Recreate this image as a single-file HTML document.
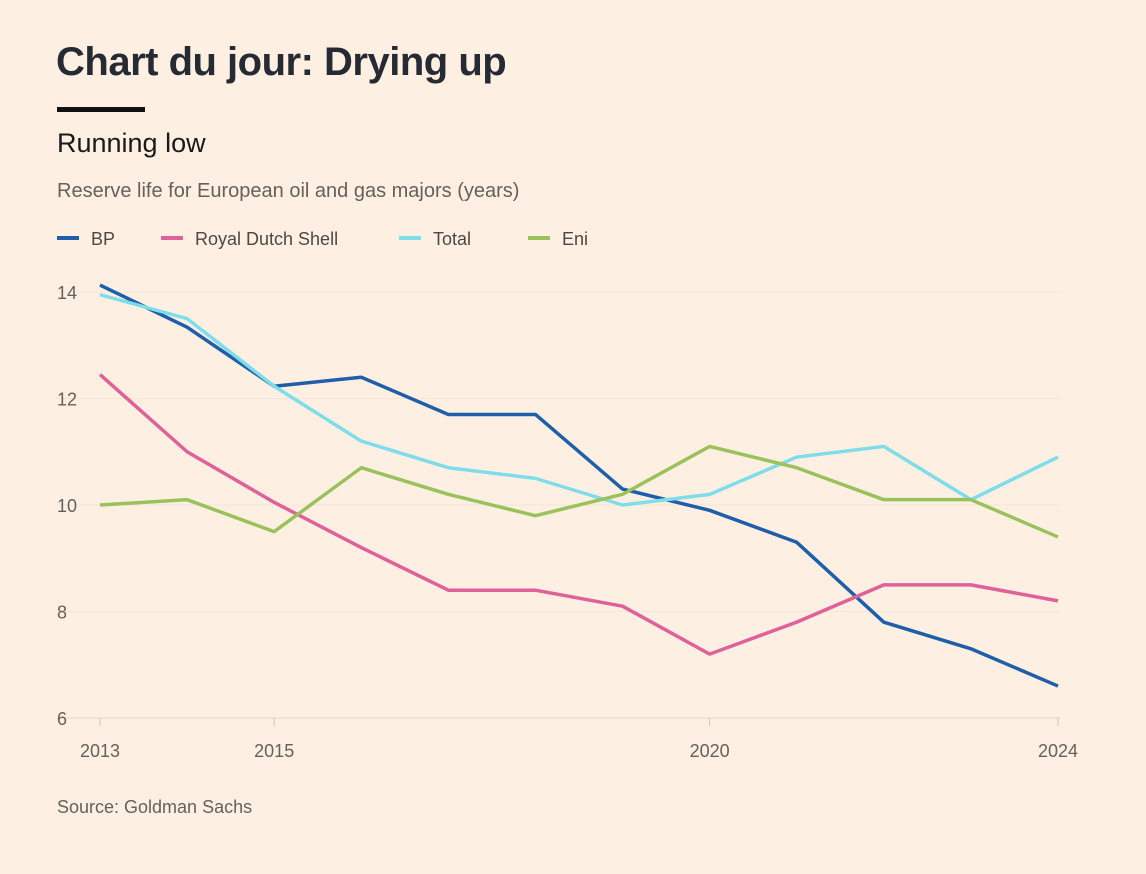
<!DOCTYPE html>
<html><head><meta charset="utf-8"><style>
body{margin:0;background:#fdf0e3;font-family:"Liberation Sans",sans-serif;}
#wrap{position:relative;width:1146px;height:874px;overflow:hidden;background:#fdf0e3;}
.t{position:absolute;white-space:nowrap;}
</style></head><body>
<div id="wrap">
<div class="t" style="left:56px;top:40px;font-size:40px;font-weight:bold;color:#262a33;letter-spacing:-0.5px">Chart du jour: Drying up</div>
<div style="position:absolute;left:57px;top:107px;width:88px;height:5px;background:#111"></div>
<div class="t" style="left:57px;top:128px;font-size:27px;color:#1a1a1a">Running low</div>
<div class="t" style="left:57px;top:180px;font-size:20px;color:#66605a">Reserve life for European oil and gas majors (years)</div>
<svg id="chart" width="1146" height="874" style="position:absolute;left:0;top:0"></svg>
<div class="t" style="left:57px;top:797px;font-size:18px;color:#66605a">Source: Goldman Sachs</div>
</div>
<script>
const years=[2013,2014,2015,2016,2017,2018,2019,2020,2021,2022,2023,2024];
const bp=[14.13,13.34,12.23,12.4,11.7,11.7,10.3,9.9,9.3,7.8,7.3,6.6];
const shell=[12.45,11.0,10.05,9.2,8.4,8.4,8.1,7.2,7.8,8.5,8.5,8.2];
const total=[13.95,13.5,12.23,11.2,10.7,10.5,10.0,10.2,10.9,11.1,10.1,10.9];
const eni=[10.0,10.1,9.5,10.7,10.2,9.8,10.2,11.1,10.7,10.1,10.1,9.4];
const yTicks=[6,8,10,12,14];
const xTicks=[2013,2015,2020,2024];
const seriesNames=["BP","Royal Dutch Shell","Total","Eni"];
const colors=["#1f5ea8","#e0609a","#7fdde9","#9bc25a"];
const ns="http://www.w3.org/2000/svg";
const svg=document.getElementById('chart');
function x(v){return 100+(v-2013)*(1058-100)/11;}
function y(v){return 718-(v-6)*(718-292)/8;}
function mk(t,a){const e=document.createElementNS(ns,t);for(const k in a)e.setAttribute(k,a[k]);svg.appendChild(e);return e;}
yTicks.forEach(v=>{
  const g=mk('line',{x1:57,x2:1060,y1:y(v),y2:y(v),stroke:v===6?'#e2d7cb':'#f3e6d9','stroke-width':1});
  
  
  const t=mk('text',{x:57,y:y(v)+7,'font-size':18,fill:'#66605a','font-family':'Liberation Sans, sans-serif'});
  t.textContent=v;
  
  
});
xTicks.forEach(v=>{
  const tk=mk('line',{x1:x(v),x2:x(v),y1:718,y2:726,stroke:'#cfc4b8'});
  
  
  const t=mk('text',{x:x(v),y:757,'font-size':18,fill:'#66605a','text-anchor':'middle','font-family':'Liberation Sans, sans-serif'});
  t.textContent=v;
  
  
});
[bp,shell,total,eni].forEach((s,i)=>{
  const p=mk('polyline',{points:s.map((v,j)=>x(years[j])+','+y(v)).join(' '),fill:'none',stroke:colors[i],'stroke-width':3.5,'stroke-linejoin':'round'});
  
  
});
const lx=[57,161,399,528];
seriesNames.forEach((n,i)=>{
  const l=mk('line',{x1:lx[i],x2:lx[i]+22,y1:238,y2:238,stroke:colors[i],'stroke-width':4});
  
  
  const t=mk('text',{x:lx[i]+34,y:245,'font-size':18,fill:'#4d4843','font-family':'Liberation Sans, sans-serif'});
  t.textContent=n;
  
  
});
</script>
</body></html>
